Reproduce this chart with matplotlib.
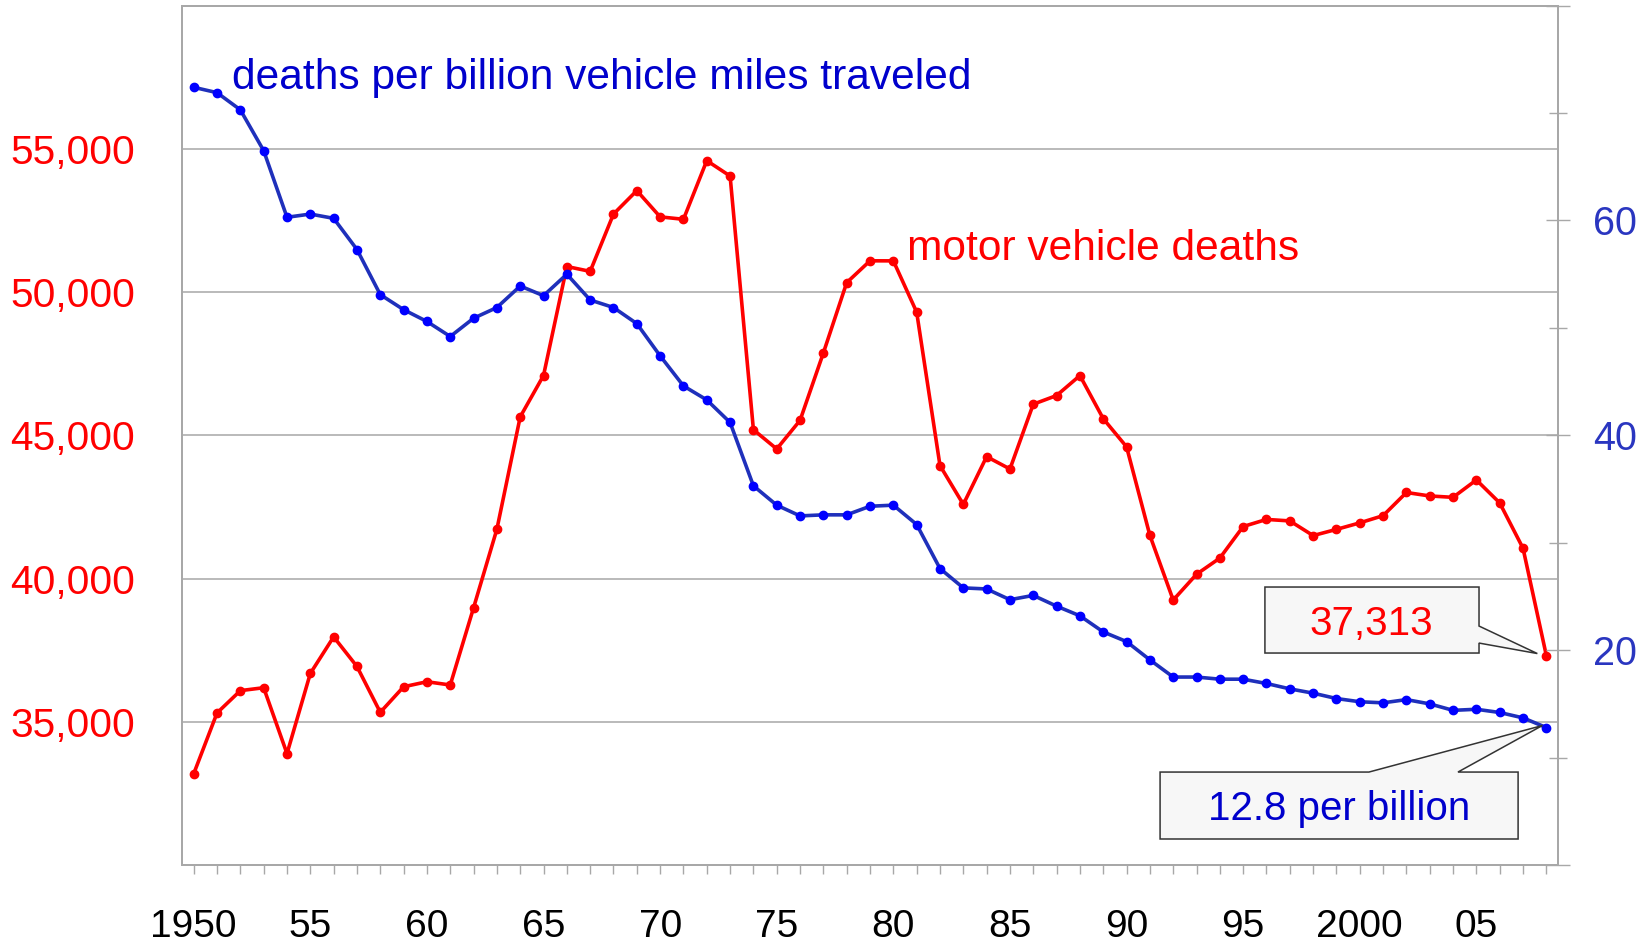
import matplotlib
matplotlib.use('Agg')
import matplotlib.pyplot as plt
from matplotlib.patches import Polygon
from matplotlib.ticker import FixedLocator, FuncFormatter

plt.rcParams['font.family'] = ['Liberation Sans', 'DejaVu Sans']

years = list(range(1950, 2009))

# motor vehicle deaths (left axis)
deaths = [33186, 35309, 36088, 36190, 33890, 36688, 37965, 36932, 35331, 36223,
          36399, 36285, 38980, 41723, 45645, 47089, 50894, 50724, 52725, 53543,
          52627, 52542, 54589, 54052, 45196, 44525, 45523, 47878, 50331, 51093,
          51091, 49301, 43945, 42589, 44257, 43825, 46087, 46390, 47087, 45582,
          44599, 41508, 39250, 40150, 40716, 41817, 42065, 42013, 41501, 41717,
          41945, 42196, 43005, 42884, 42836, 43443, 42642, 41059, 37313]

# deaths per billion vehicle miles traveled (right axis)
rate = [72.4, 71.9, 70.3, 66.5, 60.3, 60.6, 60.2, 57.3, 53.1, 51.7,
        50.6, 49.2, 50.9, 51.9, 53.9, 53.0, 55.0, 52.6, 51.9, 50.4,
        47.4, 44.6, 43.3, 41.2, 35.3, 33.5, 32.5, 32.6, 32.6, 33.4,
        33.5, 31.7, 27.6, 25.8, 25.7, 24.7, 25.1, 24.1, 23.2, 21.7,
        20.8, 19.1, 17.5, 17.5, 17.3, 17.3, 16.9, 16.4, 16.0, 15.5,
        15.2, 15.1, 15.4, 15.0, 14.4, 14.5, 14.2, 13.7, 12.8]

left_ticks = [35000, 40000, 45000, 50000, 55000]
right_labels = [20, 40, 60]

RED = '#ff0000'
BLUE_LINE = '#1f30bb'
BLUE_DOT = '#0000ff'
BLUE_TXT = '#0000cc'
AXIS_BLUE = '#2a36c0'
GRAY = '#a8a8a8'

fig = plt.figure(figsize=(16.52, 9.42), dpi=100)
ax = fig.add_axes([0.1102, 0.0817, 0.8329, 0.9123])

ax.set_xlim(1949.5, 2008.5)
ax.set_ylim(30000, 60000)
ax.set_yticks(left_ticks)
ax.yaxis.set_major_formatter(FuncFormatter(lambda v, p: f'{int(v):,}'))
ax.grid(axis='y', color='#b4b4b4', lw=1.3)
ax.tick_params(axis='y', length=0, pad=34, labelsize=29.3, labelcolor=RED)

xlabels = []
for y in years:
    if y % 5 == 0:
        xlabels.append(str(y) if y in (1950, 2000) else f'{y % 100:02d}')
    else:
        xlabels.append('')
ax.set_xticks(years)
ax.set_xticklabels(xlabels)
ax.tick_params(axis='x', direction='out', length=6.5, width=1, color=GRAY,
               pad=25, labelsize=28, labelcolor='black')

for s in ax.spines.values():
    s.set_color(GRAY)
    s.set_linewidth(1.3)

ax.plot(years, deaths, color=RED, lw=2.6, marker='o', ms=6, zorder=3)

ax2 = ax.twinx()
ax2.set_ylim(0, 80)
ax2.yaxis.set_major_locator(FixedLocator([0, 20, 40, 60, 80]))
ax2.yaxis.set_minor_locator(FixedLocator([10, 30, 50, 70]))
ax2.yaxis.set_major_formatter(FuncFormatter(lambda v, p: str(int(v)) if int(v) in right_labels else ''))
ax2.tick_params(axis='y', which='major', direction='inout', length=17, width=1,
                color=GRAY, pad=17, labelsize=28.5, labelcolor=AXIS_BLUE)
ax2.tick_params(axis='y', which='minor', direction='inout', length=13, width=1, color=GRAY)
for s in ax2.spines.values():
    s.set_color(GRAY)
    s.set_linewidth(1.3)

ax2.plot(years, rate, color=BLUE_LINE, lw=2.6, marker='o', ms=6,
         mfc=BLUE_DOT, mec=BLUE_DOT, zorder=3)

# series labels
ax.text(0.0363, 0.903, 'deaths per billion vehicle miles traveled', transform=ax.transAxes,
        color=BLUE_TXT, fontsize=30.6, va='baseline', ha='left')
ax.text(0.527, 0.704, 'motor vehicle deaths', transform=ax.transAxes,
        color=RED, fontsize=30.6, va='baseline', ha='left')


def tip_of(axis, x, y, dx=0, dy=0):
    px, py = axis.transData.transform((x, y))
    return tuple(ax2.transAxes.inverted().transform((px + dx, py + dy)))


def callout(verts, text, color, tx, ty):
    poly = Polygon(verts, closed=True, transform=ax2.transAxes, clip_on=False,
                   facecolor='#f7f7f7', edgecolor='#333333', lw=1.1, zorder=6)
    ax2.add_patch(poly)
    ax2.text(tx, ty, text, transform=ax2.transAxes, color=color, fontsize=29,
             ha='center', va='baseline', zorder=7)


# last-year callouts
t_red = tip_of(ax, years[-1], deaths[-1], dx=-9, dy=2)
x0, x1, y0, y1 = 0.787, 0.9426, 0.2467, 0.3235
callout([(x0, y0), (x1, y0), (x1, 0.2583), t_red, (x1, 0.2781), (x1, y1), (x0, y1)],
        f'{deaths[-1]:,}', RED, 0.864, 0.2677)

t_blue = tip_of(ax2, years[-1], rate[-1], dx=-4, dy=2)
x0, x1, y0, y1 = 0.7108, 0.971, 0.0303, 0.1082
callout([(x0, y0), (x1, y0), (x1, y1), (0.9273, y1), t_blue, (0.8626, y1), (x0, y1)],
        f'{rate[-1]} per billion', BLUE_TXT, 0.8408, 0.0524)

fig.savefig('out.png', dpi=100)
